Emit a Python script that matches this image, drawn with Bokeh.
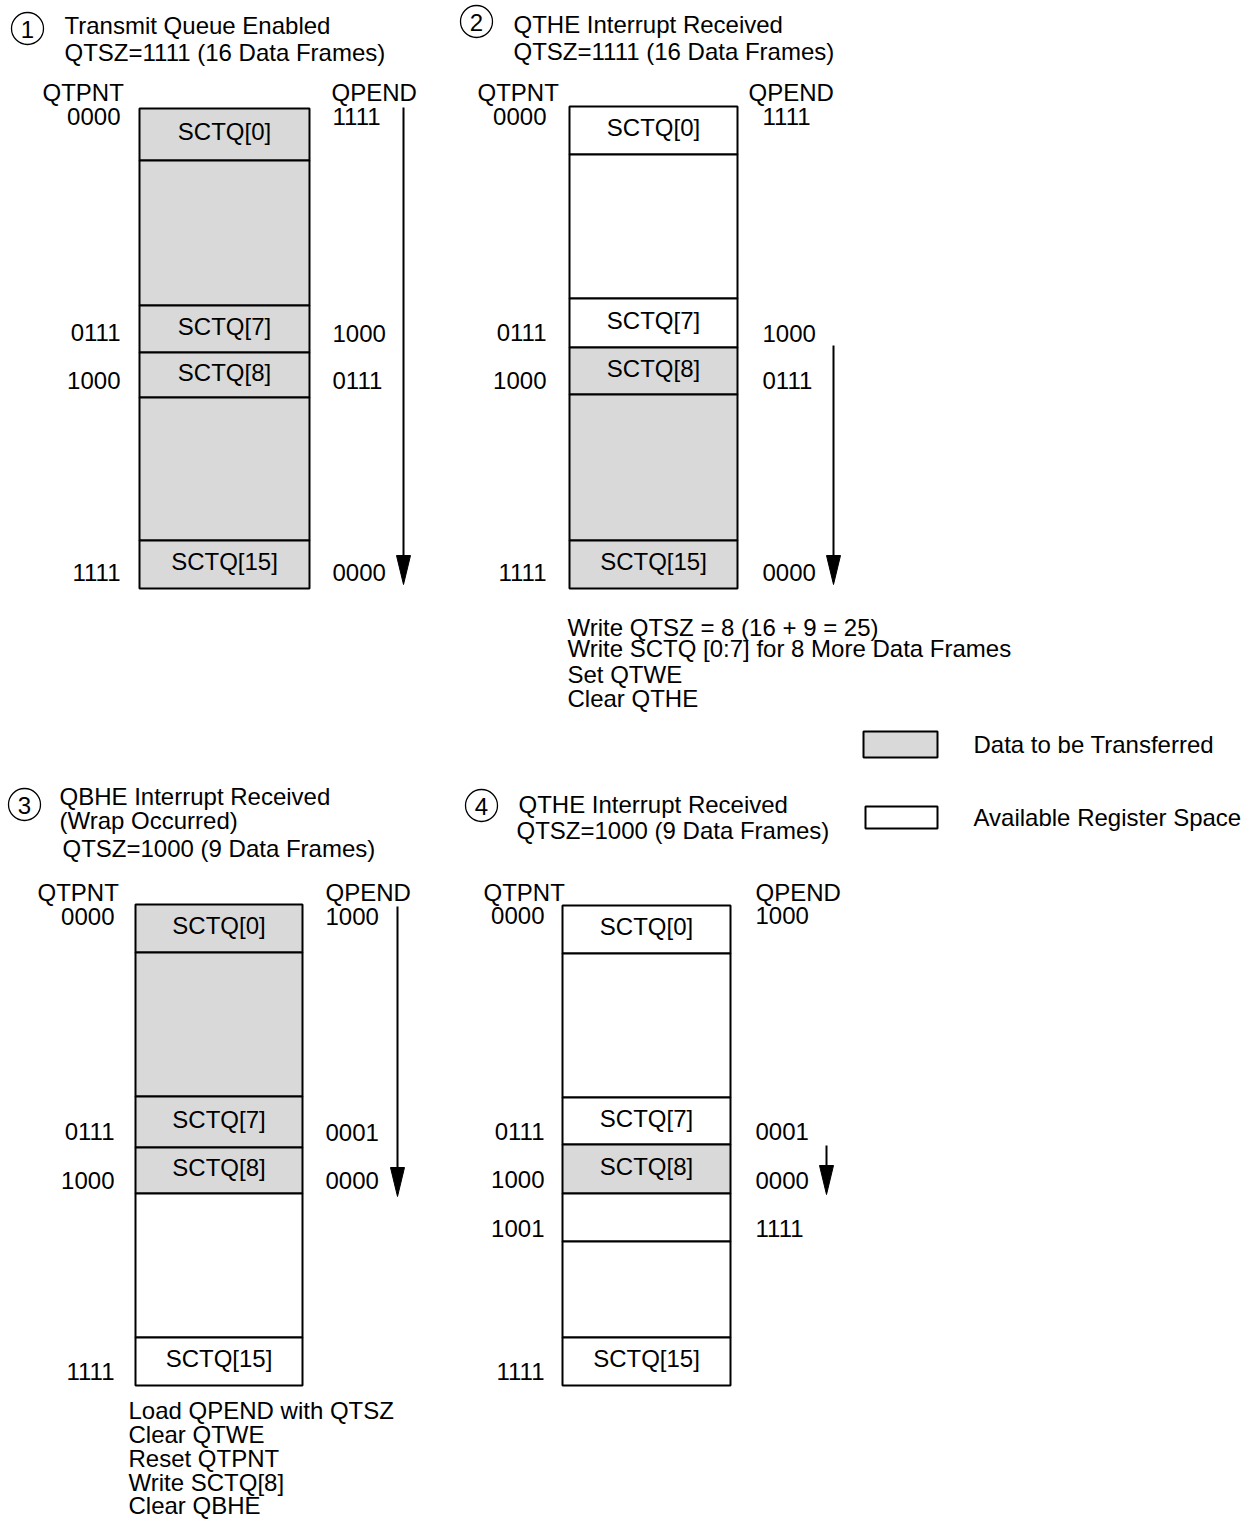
from bokeh.plotting import figure
from bokeh.models import Range1d
from bokeh.core.properties import value
from bokeh.embed import file_html
from bokeh.resources import INLINE

# ---------------- data ----------------
panel_numbers = ["1", "2", "3", "4"]
panel_titles = [
    ["Transmit Queue Enabled", "QTSZ=1111 (16 Data Frames)"],
    ["QTHE Interrupt Received", "QTSZ=1111 (16 Data Frames)"],
    ["QBHE Interrupt Received", "(Wrap Occurred)", "QTSZ=1000 (9 Data Frames)"],
    ["QTHE Interrupt Received", "QTSZ=1000 (9 Data Frames)"],
]
slot_names = [
    ["SCTQ[0]", "", "SCTQ[7]", "SCTQ[8]", "", "SCTQ[15]"],
    ["SCTQ[0]", "", "SCTQ[7]", "SCTQ[8]", "", "SCTQ[15]"],
    ["SCTQ[0]", "", "SCTQ[7]", "SCTQ[8]", "", "SCTQ[15]"],
    ["SCTQ[0]", "", "SCTQ[7]", "SCTQ[8]", "", "", "SCTQ[15]"],
]
slot_pending = [
    [1, 1, 1, 1, 1, 1],
    [0, 0, 0, 1, 1, 1],
    [1, 1, 1, 1, 0, 0],
    [0, 0, 0, 1, 0, 0, 0],
]
qtpnt_values = [
    ["0000", "0111", "1000", "1111"],
    ["0000", "0111", "1000", "1111"],
    ["0000", "0111", "1000", "1111"],
    ["0000", "0111", "1000", "1001", "1111"],
]
qpend_values = [
    ["1111", "1000", "0111", "0000"],
    ["1111", "1000", "0111", "0000"],
    ["1000", "0001", "0000"],
    ["1000", "0001", "0000", "1111"],
]
panel_notes = [
    [],
    ["Write QTSZ = 8 (16 + 9 = 25)", "Write SCTQ [0:7] for 8 More Data Frames",
     "Set QTWE", "Clear QTHE"],
    ["Load QPEND with QTSZ", "Clear QTWE", "Reset QTPNT", "Write SCTQ[8]", "Clear QBHE"],
    [],
]
legend_labels = ["Data to be Transferred", "Available Register Space"]
legend_pending = [1, 0]

# ---------------- layout (pixel geometry) ----------------
LAYOUT = [
    dict(circle=(27, 28), title_x=[64, 64], title_y=[25, 52],
         box_x=(139, 309), edges=[108, 160, 305, 352, 397, 540, 588],
         hdr_y=92, qtpnt_hx=42, qpend_hx=331, left_x=120, right_x=332,
         qtpnt_y=[116, 332, 380, 572], qpend_y=[116, 333, 380, 572],
         arrow=(403, 107, 584), notes_x=0, notes_y=[]),
    dict(circle=(476, 21), title_x=[513, 513], title_y=[24, 51],
         box_x=(569, 737), edges=[106, 154, 298, 347, 394, 540, 588],
         hdr_y=92, qtpnt_hx=477, qpend_hx=748, left_x=546, right_x=762,
         qtpnt_y=[116, 332, 380, 572], qpend_y=[116, 333, 380, 572],
         arrow=(833, 345, 584), notes_x=567, notes_y=[627, 648, 674, 698]),
    dict(circle=(24, 804), title_x=[59, 59, 62], title_y=[796, 820, 848],
         box_x=(135, 302), edges=[904, 952, 1096, 1147, 1193, 1337, 1385],
         hdr_y=892, qtpnt_hx=37, qpend_hx=325, left_x=114, right_x=325,
         qtpnt_y=[916, 1131, 1180, 1371], qpend_y=[916, 1132, 1180],
         arrow=(397, 906, 1196), notes_x=128, notes_y=[1410, 1434, 1458, 1482, 1505]),
    dict(circle=(481, 805), title_x=[518, 516], title_y=[804, 830],
         box_x=(562, 730), edges=[905, 953, 1097, 1144, 1193, 1241, 1337, 1385],
         hdr_y=892, qtpnt_hx=483, qpend_hx=755, left_x=544, right_x=755,
         qtpnt_y=[915, 1131, 1179, 1228, 1371], qpend_y=[915, 1131, 1180, 1228],
         arrow=(826, 1145, 1194), notes_x=0, notes_y=[]),
]
LEGEND_BOX = [(863, 731, 937, 757), (865, 806, 937, 828)]
LEGEND_TEXT_X = 973
LEGEND_TEXT_Y = [744, 817]

GREY = "#d9d9d9"
FONT = value("Liberation Sans")
FS = value("24px")
HEAD_LEN, HEAD_HALF = 29, 7
W, H = 1246, 1520

p = figure(width=W, height=H, output_backend="svg", toolbar_location=None,
           x_range=Range1d(0, W), y_range=Range1d(H, 0),
           x_axis_location=None, y_axis_location=None, min_border=0,
           background_fill_color="white", border_fill_color="white")
p.grid.visible = False
p.outline_line_color = None


def txt(x, y, s, align="left"):
    p.text(x=x, y=y, text=s, text_font=FONT, text_font_size=FS,
           text_color="black", text_baseline="middle", text_align=align)


for i, L in enumerate(LAYOUT):
    # number circle
    cx, cy = L["circle"]
    p.circle(x=[cx], y=[cy], radius=16, fill_color="white", line_color="black",
             line_width=1.3)
    txt([cx], [cy + 1], [panel_numbers[i]], align="center")
    # title lines
    txt(L["title_x"], L["title_y"], panel_titles[i])
    # register slots
    e = L["edges"]
    x0, x1 = L["box_x"]
    n = len(slot_names[i])
    fills = [GREY if s else "white" for s in slot_pending[i]]
    p.quad(left=[x0] * n, right=[x1] * n, top=e[:-1], bottom=e[1:],
           fill_color=fills, line_color="black", line_width=2)
    names = [s for s in slot_names[i] if s]
    ys = [(e[k] + e[k + 1]) / 2 - 3 for k, s in enumerate(slot_names[i]) if s]
    txt([(x0 + x1) / 2] * len(names), ys, names, align="center")
    # pointer headers and values
    txt([L["qtpnt_hx"]], [L["hdr_y"]], ["QTPNT"])
    txt([L["qpend_hx"]], [L["hdr_y"]], ["QPEND"])
    txt([L["left_x"]] * len(qtpnt_values[i]), L["qtpnt_y"], qtpnt_values[i], align="right")
    txt([L["right_x"]] * len(qpend_values[i]), L["qpend_y"], qpend_values[i])
    # arrow
    ax, ay0, ay1 = L["arrow"]
    p.segment(x0=[ax], y0=[ay0], x1=[ax], y1=[ay1 - HEAD_LEN + 2], line_color="black",
              line_width=2)
    p.patch(x=[ax - HEAD_HALF, ax + HEAD_HALF, ax], y=[ay1 - HEAD_LEN, ay1 - HEAD_LEN, ay1],
            fill_color="black", line_color="black", line_width=1)
    # notes
    if panel_notes[i]:
        txt([L["notes_x"]] * len(panel_notes[i]), L["notes_y"], panel_notes[i])

# legend
for (bx0, by0, bx1, by1), pend in zip(LEGEND_BOX, legend_pending):
    p.quad(left=[bx0], right=[bx1], top=[by0], bottom=[by1],
           fill_color=GREY if pend else "white", line_color="black", line_width=2)
txt([LEGEND_TEXT_X] * len(legend_labels), LEGEND_TEXT_Y, legend_labels)

open("out.html", "w").write(file_html(p, INLINE))
